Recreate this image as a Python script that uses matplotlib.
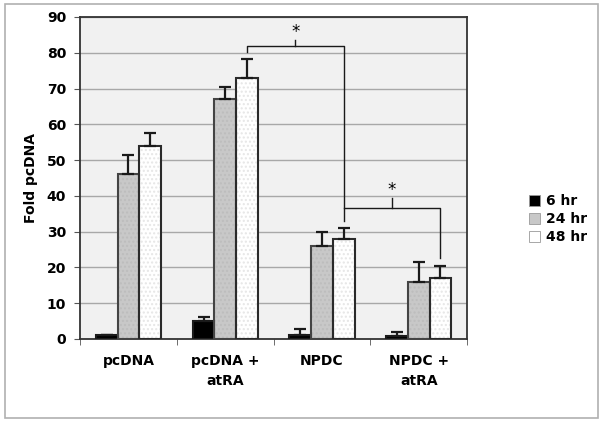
import numpy as np
import matplotlib.pyplot as plt
from matplotlib.patches import Rectangle

groups = ["pcDNA", "pcDNA +\natRA", "NPDC", "NPDC +\natRA"]
series = ["6 hr", "24 hr", "48 hr"]
vals_6 = [1, 5, 1, 0.8]
vals_24 = [46, 67, 26, 16]
vals_48 = [54, 73, 28, 17]
err_6 = [0, 1.2, 1.7, 1.1]
err_24 = [5.3, 3.3, 3.9, 5.5]
err_48 = [3.6, 5.3, 3.1, 3.4]

plt.rcParams["font.family"] = "DejaVu Sans"
plt.rcParams["font.weight"] = "bold"

fig = plt.figure(figsize=(6.02, 4.24), dpi=100)
fig.patches.append(Rectangle((0.009, 0.014), 0.984, 0.976, transform=fig.transFigure,
                             fill=False, edgecolor="#b0b0b0", lw=1.2))
ax = fig.add_axes([0.133, 0.2005, 0.643, 0.7595])
ax.set_facecolor("#f1f1f1")

x = np.arange(len(groups))
w = 0.224
faces = ["#000000", "#c8c8c8", "#ffffff"]
hatchc = ["#000000", "#bdbdbd", "#e6e6e6"]
edges = ["#1a1a1a", "#444444", "#2a2a2a"]
allvals = [vals_6, vals_24, vals_48]
allerr = [err_6, err_24, err_48]

for i in range(3):
    pos = x + (i - 1) * w
    ax.bar(pos, allvals[i], w, color=faces[i], edgecolor=hatchc[i], hatch="....",
           lw=0, zorder=2)
    ax.bar(pos, allvals[i], w, fill=False, edgecolor=edges[i], lw=1.5, zorder=3)
    ax.errorbar(pos, allvals[i], yerr=[np.zeros(4), allerr[i]], fmt="none",
                ecolor="#1a1a1a", elinewidth=1.6, capsize=4, capthick=1.6, zorder=4)

ax.set_xlim(-0.5, 3.5)
ax.set_ylim(0, 90)
ax.set_yticks(np.arange(0, 91, 10))
ax.yaxis.grid(True, color="#a8a8a8", lw=1)
ax.set_axisbelow(True)
ax.set_xticks(x)
ax.set_xticklabels(groups, fontsize=10, fontweight="bold", linespacing=1.5)
ax.set_xticks(np.arange(-0.5, 4, 1), minor=True)
ax.tick_params(axis="x", which="major", length=0, pad=11)
ax.tick_params(axis="x", which="minor", length=4, color="#555555")
ax.tick_params(axis="y", length=4, color="#555555", labelsize=10, pad=6)
for lab in ax.get_yticklabels():
    lab.set_fontweight("bold")
for s in ax.spines.values():
    s.set_color("#333333")
    s.set_linewidth(1.3)
ax.set_ylabel("Fold pcDNA", fontsize=10, fontweight="bold", labelpad=6)

# significance brackets
lw_b = 1.0
xa = x[1] + w
xb = x[2] + w
xc = x[3] + w
ax.plot([xa, xa, xb, xb], [80.2, 82, 82, 33.1], color="#1a1a1a", lw=lw_b, zorder=5)
ax.plot([(xa + xb) / 2] * 2, [82, 83.5], color="#1a1a1a", lw=lw_b, zorder=5)
ax.text((xa + xb) / 2, 83.2, "*", ha="center", va="bottom", fontsize=12, fontweight="normal")
ax.plot([xb, xb, xc, xc], [36.5, 36.5, 36.5, 22.5], color="#1a1a1a", lw=lw_b, zorder=5)
ax.plot([(xb + xc) / 2] * 2, [36.5, 39.3], color="#1a1a1a", lw=lw_b, zorder=5)
ax.text((xb + xc) / 2, 39.0, "*", ha="center", va="bottom", fontsize=12, fontweight="normal")

# legend
handles = [Rectangle((0, 0), 1, 1, facecolor=faces[i], edgecolor="#999999", lw=0.6)
           for i in range(3)]
fig.legend(handles, series, loc="center left", bbox_to_anchor=(0.858, 0.483),
           frameon=False, handlelength=0.8, handleheight=0.8,
           handletextpad=0.4, labelspacing=0.3, prop={"weight": "bold", "size": 10})

fig.savefig("out.png", dpi=100)
